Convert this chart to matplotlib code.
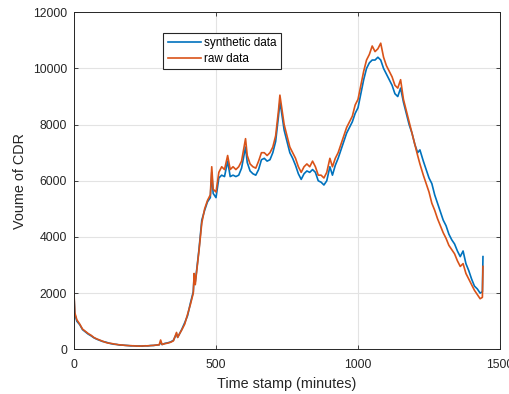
import matplotlib
matplotlib.use("Agg")
from matplotlib import pyplot as plt

# time stamps (minutes) and CDR volumes
minutes = [0, 3, 10, 20, 30, 40, 50, 60, 70, 80, 90, 100, 110, 120, 130, 140, 150,
           160, 170, 180, 190, 200, 210, 220, 230, 240, 250, 260, 270, 280, 290, 300,
           305, 310, 320, 330, 340, 350, 361, 365, 370, 380, 390, 400, 410, 420, 423,
           427, 430, 440, 450, 460, 470, 480, 485, 490, 500, 510, 520, 530, 541, 550,
           560, 570, 580, 590, 604, 610, 620, 630, 640, 650, 660, 670, 680, 690, 700,
           710, 720, 725, 730, 740, 750, 760, 770, 780, 790, 800, 810, 820, 830, 840,
           850, 860, 870, 880, 890, 901, 910, 920, 930, 940, 950, 960, 970, 980, 990,
           1000, 1010, 1020, 1030, 1040, 1050, 1060, 1070, 1080, 1090, 1100, 1110,
           1120, 1130, 1140, 1150, 1160, 1170, 1180, 1190, 1200, 1210, 1218, 1230,
           1240, 1250, 1260, 1270, 1280, 1290, 1300, 1310, 1320, 1330, 1340, 1350,
           1360, 1370, 1380, 1390, 1400, 1410, 1420, 1430, 1438, 1440]

raw = [2000, 1300, 1050, 900, 720, 640, 560, 500, 420, 370, 330, 290, 250, 220, 210,
       190, 170, 160, 150, 140, 130, 130, 120, 120, 110, 120, 120, 125, 130, 140, 150,
       160, 330, 170, 200, 220, 250, 300, 600, 420, 520, 700, 900, 1250, 1600, 2000,
       2700, 2300, 2600, 3500, 4500, 5000, 5300, 5500, 6500, 5700, 5600, 6300, 6500,
       6400, 6900, 6400, 6500, 6400, 6500, 6700, 7500, 6900, 6600, 6500, 6450, 6700,
       7000, 7000, 6900, 7000, 7200, 7600, 8500, 9050, 8700, 8000, 7600, 7200, 7000,
       6800, 6500, 6300, 6500, 6600, 6500, 6700, 6500, 6200, 6200, 6100, 6300, 6800,
       6500, 6800, 7000, 7300, 7600, 7900, 8100, 8300, 8700, 8900, 9400, 9900, 10300,
       10500, 10800, 10600, 10700, 10900, 10400, 10100, 9900, 9700, 9400, 9300, 9600,
       8900, 8500, 8100, 7700, 7300, 6900, 6600, 6200, 5900, 5600, 5200, 4950, 4650,
       4400, 4150, 3950, 3700, 3550, 3400, 3150, 2950, 3050, 2700, 2500, 2300, 2100,
       1950, 1800, 1850, 2950]

synthetic = [1900, 1250, 1000, 880, 700, 620, 540, 480, 410, 360, 320, 280, 260, 230,
             200, 180, 175, 150, 150, 140, 135, 120, 125, 115, 120, 110, 125, 120, 135,
             135, 150, 160, 250, 170, 210, 230, 260, 320, 550, 430, 520, 720, 950, 1200,
             1650, 2050, 2600, 2400, 2650, 3550, 4600, 4950, 5250, 5400, 6300, 5550,
             5400, 6100, 6200, 6150, 6700, 6150, 6200, 6150, 6200, 6450, 7200, 6650,
             6350, 6250, 6200, 6400, 6750, 6800, 6700, 6750, 7000, 7400, 8300, 8800,
             8500, 7800, 7400, 7000, 6800, 6550, 6250, 6050, 6250, 6350, 6300, 6400,
             6300, 6000, 5950, 5850, 6000, 6500, 6200, 6550, 6800, 7100, 7400, 7700,
             7900, 8100, 8400, 8600, 9100, 9600, 10000, 10200, 10300, 10300, 10400,
             10300, 10000, 9800, 9600, 9400, 9100, 9000, 9300, 8800, 8400, 8000, 7700,
             7300, 7000, 7100, 6700, 6400, 6100, 5900, 5500, 5200, 4900, 4600, 4400,
             4100, 3900, 3750, 3500, 3300, 3500, 3050, 2800, 2500, 2250, 2150, 2000,
             2050, 3300]

plt.rcParams['font.family'] = ['Liberation Sans', 'DejaVu Sans']

fig = plt.figure(figsize=(5.1, 3.94), dpi=100)
ax = fig.add_axes([0.1451, 0.1135, 0.8353, 0.8553])

ax.plot(minutes, synthetic, color='#0072BD', lw=1.2, label='synthetic data')
ax.plot(minutes, raw, color='#D95319', lw=1.2, label='raw data')

ax.set_xlim(0, 1500)
ax.set_ylim(0, 12000)
ax.set_xticks([0, 500, 1000, 1500])
ax.set_yticks([0, 2000, 4000, 6000, 8000, 10000, 12000])
ax.grid(True, color='#e3e3e3', lw=0.8)
ax.set_axisbelow(True)

ax.tick_params(direction='in', length=3, width=0.6, colors='#262626',
               labelsize=8.8, top=True, right=True)
ax.tick_params(axis='x', pad=7)
ax.tick_params(axis='y', pad=5)
for s in ax.spines.values():
    s.set_color('#262626')
    s.set_linewidth(0.7)

ax.set_xlabel('Time stamp (minutes)', fontsize=10.4, color='#262626', labelpad=4)
ax.set_ylabel('Voume of CDR', fontsize=10.4, color='#262626', labelpad=4)

leg = ax.legend(loc='upper left', bbox_to_anchor=(0.21, 0.938), fontsize=8.5,
                frameon=True, fancybox=False, handlelength=2.8, handletextpad=0.3,
                borderpad=0.35, labelspacing=0.3, borderaxespad=0)
leg.get_frame().set_edgecolor('#262626')
leg.get_frame().set_linewidth(0.8)
leg.get_frame().set_alpha(1)

fig.savefig('out.png', dpi=100)
